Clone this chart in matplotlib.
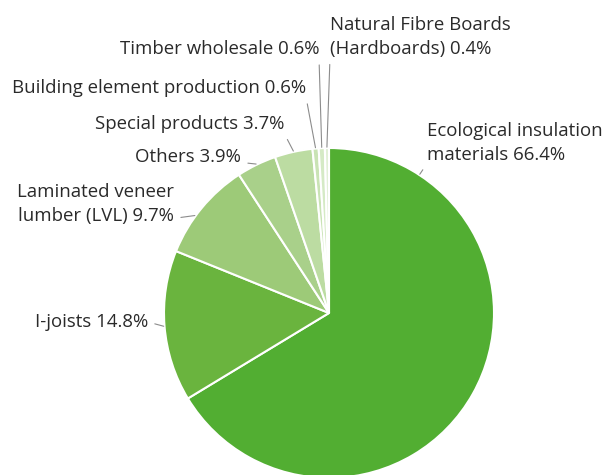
import numpy as np
import matplotlib.pyplot as plt

plt.rcParams['font.family'] = ['Open Sans', 'DejaVu Sans']

labels = ["Ecological insulation\nmaterials", "I-joists", "Laminated veneer\nlumber (LVL)",
          "Others", "Special products", "Building element production",
          "Timber wholesale", "Natural Fibre Boards\n(Hardboards)"]
shares = [66.4, 14.8, 9.7, 3.9, 3.7, 0.6, 0.6, 0.4]
colors = ["#52ae32", "#6ab43e", "#9dca78", "#a9d08a", "#bcdca2",
          "#c9e3b4", "#d5eac5", "#e1f0d6"]

# label placement in pixels (x, y from top), alignment, relpos of leader, anchor angle override
R = 165.0
CX, CY = 329.0, 313.0
W, H = 602, 475
label_pos = [(427, 143, 'left', (0.0, 0.0), 56.8),
             (148, 322, 'right', (1.0, 0.5), None),
             (174, 204, 'right', (1.0, 0.15), 144.0),
             (241, 157, 'right', (1.0, 0.2), None),
             (284, 124, 'right', (1.0, 0.0), None),
             (306, 88, 'right', (1.0, 0.0), None),
             (319, 49, 'right', (1.0, 0.0), None),
             (330, 37, 'left', (0.0, 0.0), None)]


def px(x, y):
    return (x - CX) / R, (CY - y) / R


fig = plt.figure(figsize=(W / 100, H / 100), dpi=100)
ax = fig.add_axes([0, 0, 1, 1])
ax.axis('off')

wedges, _ = ax.pie(shares, colors=colors, startangle=90, counterclock=False,
                   radius=1.0, frame=False,
                   wedgeprops=dict(edgecolor='white', linewidth=1.5))
ax.set_xlim(-CX / R, (W - CX) / R)
ax.set_ylim(-(H - CY) / R, CY / R)
ax.set_aspect('auto')

for w, lab, val, (tx, ty, ha, rp, ang) in zip(wedges, labels, shares, label_pos):
    if ang is None:
        ang = (w.theta1 + w.theta2) / 2
    a = np.deg2rad(ang)
    xy = (np.cos(a) * 1.005, np.sin(a) * 1.005)
    ax.annotate("{0} {1}%".format(lab, val), xy=xy, xytext=px(tx, ty),
                ha=ha, va='center', fontsize=13.4, color='#2a2a2a',
                linespacing=1.36,
                arrowprops=dict(arrowstyle='-', color='#8c8c8c', lw=0.8,
                                relpos=rp, shrinkA=3, shrinkB=0))

fig.savefig('out.png', dpi=100)
